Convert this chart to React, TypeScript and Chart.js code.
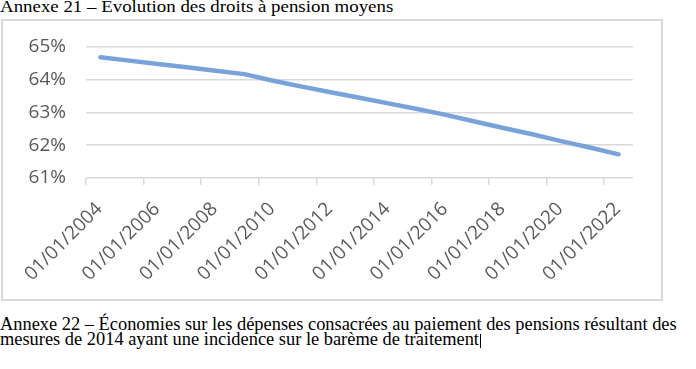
import React, { useEffect, useRef } from "react";
import { Chart, registerables } from "chart.js";

Chart.register(...registerables);

const categories = [
  "01/01/2004", "01/01/2005", "01/01/2006", "01/01/2007", "01/01/2008",
  "01/01/2009", "01/01/2010", "01/01/2011", "01/01/2012", "01/01/2013",
  "01/01/2014", "01/01/2015", "01/01/2016", "01/01/2017", "01/01/2018",
  "01/01/2019", "01/01/2020", "01/01/2021", "01/01/2022",
];

const droitsPension = [
  64.67, 64.57, 64.47, 64.37, 64.26, 64.16, 63.96, 63.78, 63.61, 63.44,
  63.27, 63.1, 62.92, 62.72, 62.52, 62.33, 62.12, 61.93, 61.72,
];

const yMin = 61;
const yMax = 65;
const yStep = 1;

const titleTop = "Annexe 21 – Évolution des droits à pension moyens";
const textBottom1 =
  "Annexe 22 – Économies sur les dépenses consacrées au paiement des pensions résultant des";
const textBottom2 = "mesures de 2014 ayant une incidence sur le barème de traitement";

const axisFont = { family: '"Open Sans", sans-serif', size: 19 };
const axisColor = "#595959";
const gridColor = "#d9d9d9";

export default function App() {
  const canvasRef = useRef<HTMLCanvasElement | null>(null);

  useEffect(() => {
    if (!canvasRef.current) return;
    const chart = new Chart(canvasRef.current, {
      type: "line",
      data: {
        labels: categories,
        datasets: [
          {
            data: droitsPension,
            borderColor: "#78a2da",
            borderWidth: 4.5,
            pointRadius: 0,
            borderCapStyle: "round",
            borderJoinStyle: "round",
            tension: 0,
            fill: false,
          },
        ],
      },
      options: {
        animation: false,
        responsive: false,
        devicePixelRatio: 1,
        layout: { padding: { top: 25.5, right: 28, left: 0, bottom: 0 } },
        plugins: { legend: { display: false }, tooltip: { enabled: false } },
        scales: {
          x: {
            type: "category",
            offset: true,
            border: { display: false },
            grid: {
              offset: true,
              drawOnChartArea: false,
              drawTicks: true,
              tickLength: 7,
              lineWidth: 1.5,
              color: (ctx: any) =>
                ctx.type === "tick" && ctx.index % 2 === 0 ? gridColor : "rgba(0,0,0,0)",
            },
            ticks: {
              autoSkip: false,
              minRotation: 45,
              maxRotation: 45,
              padding: 13,
              labelOffset: -1,
              color: axisColor,
              font: axisFont,
              callback: (_v: any, i: number) => (i % 2 === 0 ? categories[i] : ""),
            },
            afterFit: (s: any) => {
              s.height = 121;
            },
          },
          y: {
            min: yMin,
            max: yMax,
            border: { display: false },
            grid: { color: gridColor, lineWidth: 1.5, drawTicks: false },
            ticks: {
              stepSize: yStep,
              padding: 20,
              color: axisColor,
              font: axisFont,
              callback: (v: any) => `${v}%`,
            },
            afterFit: (s: any) => {
              s.width = 83;
              s.paddingTop = 0;
              s.paddingBottom = 0;
            },
          },
        },
      },
    } as any);
    return () => chart.destroy();
  }, []);

  const serif = '"Liberation Serif", "Times New Roman", serif';

  return (
    <div
      style={{
        position: "fixed",
        left: 0,
        top: 0,
        width: 696,
        height: 369,
        background: "#fff",
        overflow: "hidden",
      }}
    >
      <div
        style={{
          position: "absolute",
          left: 0,
          top: -1.2,
          fontFamily: serif,
          fontSize: 16,
          lineHeight: "16px",
          color: "#000",
          whiteSpace: "nowrap",
          transform: "scaleX(1.18)",
          transformOrigin: "0 0",
        }}
      >
        {titleTop}
      </div>
      <div
        style={{
          position: "absolute",
          left: 1,
          top: 19,
          width: 658,
          height: 278,
          border: `2px solid ${gridColor}`,
        }}
      >
        <canvas ref={canvasRef} width={658} height={278} style={{ display: "block" }} />
      </div>
      <div
        style={{
          position: "absolute",
          left: 0,
          top: 316.7,
          fontFamily: serif,
          fontSize: 18.4,
          lineHeight: "15.6px",
          color: "#000",
          whiteSpace: "nowrap",
        }}
      >
        <div>{textBottom1}</div>
        <div>
          {textBottom2}
          <span
            style={{
              display: "inline-block",
              width: 1,
              height: 14,
              background: "#000",
              verticalAlign: "-3px",
              marginLeft: 1,
            }}
          />
        </div>
      </div>
    </div>
  );
}
